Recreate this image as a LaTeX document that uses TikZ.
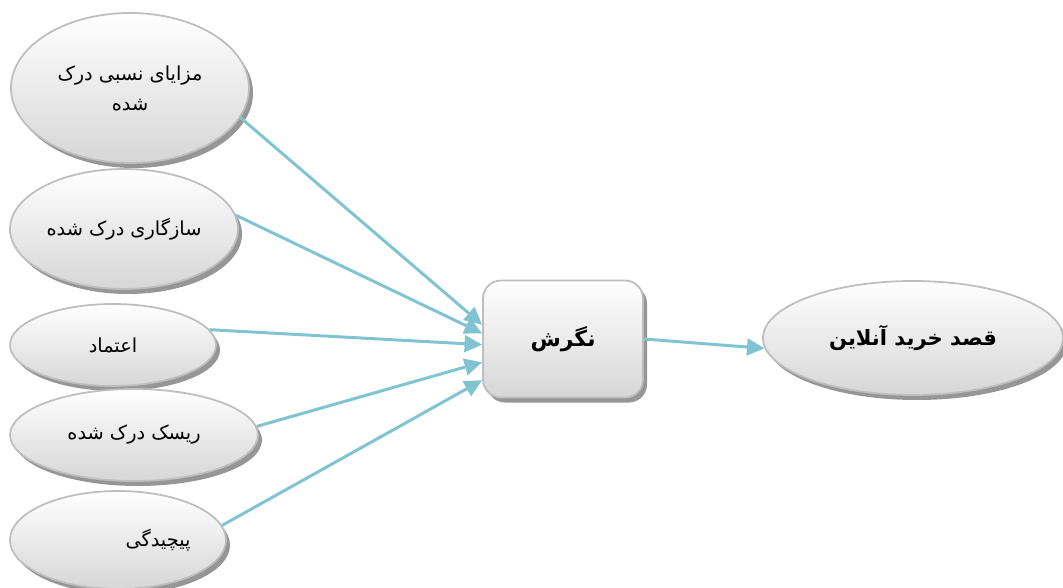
\documentclass[tikz,border=0pt]{standalone}
\usepackage{fontspec}
\newfontfamily\arabicfont[Script=Arabic]{DejaVu Sans}
\TeXXeTstate=1
\usetikzlibrary{shapes.geometric,shadows,arrows.meta}
\definecolor{arrowblue}{RGB}{128,196,210}
\definecolor{rimgray}{RGB}{190,190,190}
\definecolor{shadowgray}{RGB}{150,150,150}
\def\u{0.02cm}
\tikzset{
  bubble/.style={ellipse, draw=rimgray, line width=1pt, top color=white, bottom color=black!16,
    inner sep=0pt, font=\arabicfont\fontsize{11}{17}\selectfont, align=center,
    drop shadow={shadow xshift=4*\u, shadow yshift=-5*\u, fill=shadowgray, opacity=1}},
  boxnode/.style={rectangle, rounded corners=18*\u, draw=rimgray, line width=1pt, top color=white, bottom color=black!16,
    inner sep=0pt, font=\arabicfont\bfseries\fontsize{12.5}{16}\selectfont,
    drop shadow={shadow xshift=4*\u, shadow yshift=-5*\u, fill=shadowgray, opacity=1}},
  link/.style={draw=arrowblue, line width=1.7pt, -{Triangle[length=10pt,width=9.5pt]}}
}
\begin{document}
\begin{tikzpicture}[x=\u, y=-\u]
\useasboundingbox (0,0) rectangle (1063,588);
\node[bubble, minimum width={238*\u}, minimum height={150*\u}] (e1) at (130,88) {\beginR مزایای نسبی درک\endR\\\beginR شده\endR};
\node[bubble, minimum width={228*\u}, minimum height={120*\u}] (e2) at (124,229) {\beginR سازگاری درک شده\endR};
\node[bubble, minimum width={206*\u}, minimum height={82*\u}] (e3) at (113,345) {\beginR اعتماد\endR};
\node[bubble, minimum width={248*\u}, minimum height={92*\u}] (e4) at (134,435) {\beginR ریسک درک شده\endR};
\node[bubble, minimum width={216*\u}, minimum height={98*\u}] (e5) at (118,540) {\hspace*{1.6cm}\beginR پیچیدگی\endR};
\node[boxnode, minimum width={160*\u}, minimum height={117*\u}] (att) at (563,339) {\beginR نگرش\endR};
\node[bubble, font=\arabicfont\bfseries\fontsize{12}{16}\selectfont, minimum width={300*\u}, minimum height={114*\u}] (intent) at (913,338) {\beginR قصد خرید آنلاین\endR};
\draw[link] (e1.-15) -- (att.170);
\draw[link] (e2.7) -- (att.176);
\draw[link] (e3.9) -- (att.184);
\draw[link] (e4.4) -- (att.196);
\draw[link] (e5.8) -- (att.207);
\draw[link] (att.0) -- (intent.184);
\end{tikzpicture}
\end{document}
